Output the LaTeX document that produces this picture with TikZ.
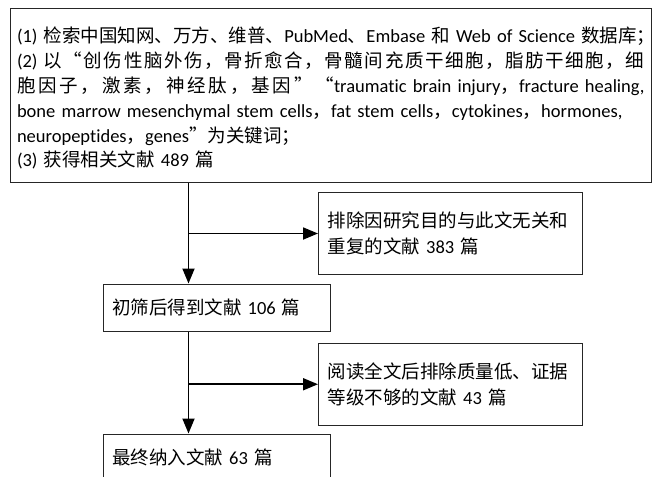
\documentclass[tikz,border=0pt]{standalone}
\usepackage{fontspec}
\setmainfont{Carlito}[Ligatures=NoCommon]
\newfontfamily\cjk{Noto Sans CJK SC}
\usetikzlibrary{arrows.meta}
\def\spr#1{#1\futurelet\sprnext\sprx}
\def\sprx{\ifx\sprnext\relax\expandafter\sprstop\else\hskip0pt plus1fil\expandafter\spr\fi}
\def\sprstop\relax{}
\newlength\topW \setlength\topW{627.5pt}
\newcommand\fsbig{\fontsize{18.5pt}{24.8pt}\selectfont}
\newcommand\fsbox{\fontsize{18.5pt}{26pt}\selectfont}
\tikzset{
  box/.style={draw=black!85, line width=1pt, inner sep=0pt, anchor=north west, align=left, font=\fsbox},
  conn/.style={line width=1.8pt, -{Triangle[length=15pt,width=12pt]}}
}
\begin{document}
\begin{tikzpicture}[x=1pt,y=-1pt]
\useasboundingbox (0,0) rectangle (654,477);
\clip (0,0) rectangle (654,477);
\fill[white] (0,0) rectangle (654,477);
\node[box, font=\fsbig, minimum width=641.5pt, minimum height=174pt, text width=\topW] (top) at (9.5,7.5) {%
\leavevmode\hbox to\topW{\rule{0pt}{22.5pt}(1) {\cjk 检索中国知网、万方、维普、}PubMed{\cjk 、}Embase {\cjk 和} Web of Science {\cjk 数据库；}\hss}\\
\leavevmode\hbox to\topW{(2) {\cjk\spr 以“创伤性脑外伤，骨折愈合，骨髓间充质干细胞，脂肪干细胞，细\relax}}\\
\leavevmode\hbox to\topW{{\cjk\spr 胞因子，激素，神经肽，基因”“\relax}traumatic brain injury{\cjk ，}fracture healing,}\\
\makebox[\topW][s]{bone marrow mesenchymal stem cells{\cjk ，}fat stem cells{\cjk ，}cytokines{\cjk ，}hormones,}\\
neuropeptides{\cjk ，}genes{\cjk ”为关键词；}\\
(3) {\cjk 获得相关文献} 489 {\cjk 篇}};
\node[box, minimum width=264pt, minimum height=82pt, text width=246pt] (excl1) at (318,192) {%
{\cjk 排除因研究目的与此文无关和}\\{\cjk 重复的文献} 383 {\cjk 篇}};
\node[box, minimum width=227pt, minimum height=47pt, text width=210pt] (screen) at (103,283.5) {%
{\cjk 初筛后得到文献} 106 {\cjk 篇}};
\node[box, minimum width=264pt, minimum height=82.5pt, text width=246pt] (excl2) at (318,342.5) {%
{\cjk 阅读全文后排除质量低、证据}\\{\cjk 等级不够的文献} 43 {\cjk 篇}};
\node[box, minimum width=227pt, minimum height=47pt, text width=210pt] (final) at (103,433.5) {%
{\cjk 最终纳入文献} 63 {\cjk 篇}};
\coordinate (spine) at (188.5,0);
\draw[conn] (top.south -| spine) -- (screen.north -| spine);
\draw[conn] (excl1.west -| spine) -- (excl1.west);
\draw[conn] (screen.south -| spine) -- (final.north -| spine);
\draw[conn] (excl2.west -| spine) -- (excl2.west);
\end{tikzpicture}
\end{document}
